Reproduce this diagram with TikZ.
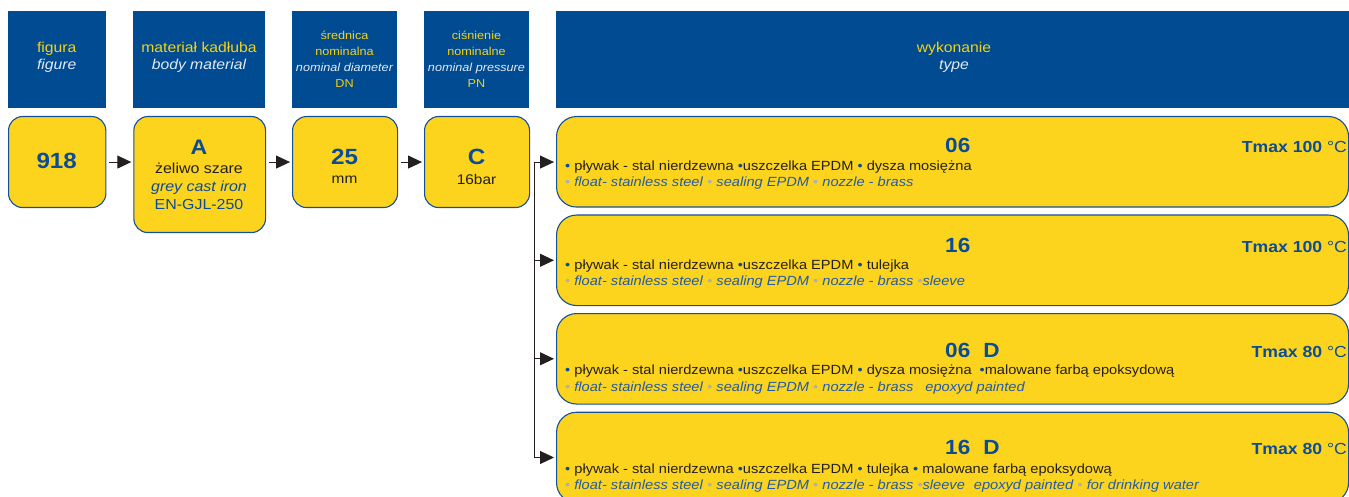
\documentclass[tikz,border=0pt]{standalone}
\usepackage{fontspec}
\setmainfont{Liberation Sans}[FakeStretch=1.1]
\usetikzlibrary{arrows.meta,calc}
\definecolor{hdrblue}{RGB}{0,75,145}
\definecolor{hdryellow}{RGB}{245,210,20}
\definecolor{hdrwhite}{RGB}{228,234,242}
\definecolor{boxyellow}{RGB}{253,212,29}
\definecolor{borderblue}{RGB}{20,80,150}
\definecolor{textblue}{RGB}{10,76,150}
\definecolor{itblue}{RGB}{35,90,165}
\definecolor{bulletgrey}{RGB}{175,175,175}
\definecolor{textblack}{RGB}{35,31,32}
\definecolor{arrowblack}{RGB}{35,31,32}
\newcommand\myfs[1]{\fontsize{#1}{#1}\selectfont}
\newcommand\bb{{\color{textblue}•}}
\newcommand\gb{{\color{bulletgrey}•}}
\begin{document}
\begin{tikzpicture}[x=1pt,y=-1pt,
  hdr/.style={fill=hdrblue,inner sep=0,anchor=north west,minimum height=97pt},
  ybox/.style={fill=boxyellow,draw=borderblue,line width=1.1pt,rounded corners=14pt,inner sep=0,anchor=north west},
  rbox/.style={ybox,rounded corners=20pt,minimum width=792pt,minimum height=90.5pt},
  txt/.style={inner sep=0,anchor=base},
  hy/.style={txt,text=hdryellow,font=\myfs{14.3}},
  hw/.style={txt,text=hdrwhite,font=\myfs{14.3}\itshape},
  sy/.style={txt,text=hdryellow,font=\myfs{11.5}},
  sw/.style={txt,text=hdrwhite,font=\myfs{11.5}\itshape},
  big/.style={txt,text=textblue,font=\myfs{22}\bfseries},
  mid/.style={txt,text=textblack,font=\myfs{14.5}},
  ttl/.style={inner sep=0,anchor=base west,text=textblue,font=\myfs{20.5}\bfseries},
  tmax/.style={inner sep=0,anchor=base east,text=textblue,font=\myfs{16}},
  lineA/.style={inner sep=0,anchor=base west,text=textblack,font=\myfs{13.3}},
  lineB/.style={inner sep=0,anchor=base west,text=itblue,font=\myfs{13.3}},
  conn/.style={draw=arrowblack,line width=1pt},
  arr/.style={conn,-{Triangle[length=14pt,width=13pt]},shorten >=2pt}
]
\useasboundingbox (0,0) rectangle (1349,497);
% header
\node[hdr,minimum width=98pt] (h1) at (8,10.5) {};
\node[hdr,minimum width=132pt] (h2) at (133,10.5) {};
\node[hdr,minimum width=105pt] (h3) at (292,10.5) {};
\node[hdr,minimum width=105pt] (h4) at (424,10.5) {};
\node[hdr,minimum width=793pt] (h5) at (556,10.5) {};
\node[hy] (h1a) at (56.8,53) {figura};
\node[hw] (h1b) at (56.8,69.5) {figure};
\node[hy] (h2a) at (199,53) {materiał kadłuba};
\node[hw] (h2b) at (199,69.5) {body material};
\node[sy] (h3a) at (344.5,40) {średnica};
\node[sy] (h3b) at (344.5,56) {nominalna};
\node[sw] (h3c) at (344.5,72) {nominal diameter};
\node[sy] (h3d) at (344.5,88) {DN};
\node[sy] (h4a) at (476.5,40) {ciśnienie};
\node[sy] (h4b) at (476.5,56) {nominalne};
\node[sw] (h4c) at (476.5,72) {nominal pressure};
\node[sy] (h4d) at (476.5,88) {PN};
\node[hy] (h5a) at (954,53) {wykonanie};
\node[hw] (h5b) at (954,69.5) {type};
% left row
\node[ybox,minimum width=97.3pt,minimum height=91pt] (b1) at (8,116) {};
\node[ybox,minimum width=131.7pt,minimum height=116pt] (b2) at (133.3,116) {};
\node[ybox,minimum width=105pt,minimum height=91pt] (b3) at (292,116) {};
\node[ybox,minimum width=105pt,minimum height=91pt] (b4) at (424,116) {};
\node[big] (b1a) at (56.7,169) {918};
\node[big,font=\myfs{21}\bfseries] (b2a) at (199,154.5) {A};
\node[mid] (b2b) at (199,173.5) {żeliwo szare};
\node[mid,text=textblue,font=\myfs{14.5}\itshape] (b2c) at (199,191.5) {grey cast iron};
\node[mid,text=textblue] (b2d) at (199,209.2) {EN-GJL-250};
\node[big] (b3a) at (344.5,165) {25};
\node[mid,font=\myfs{14}] (b3b) at (344.5,184) {mm};
\node[big] (b4a) at (476.5,165) {C};
\node[mid,font=\myfs{14}] (b4b) at (476.5,184.5) {16bar};
% right boxes
\node[rbox] (r1) at (556,116) {};
\node[rbox] (r2) at (556,214.5) {};
\node[rbox] (r3) at (556,313) {};
\node[rbox] (r4) at (556,411.7) {};
\node[ttl] (r1t) at (945,153) {06};
\node[tmax] (r1m) at (1347,153) {\textbf{Tmax 100} °C};
\node[lineA] (r1a) at (565,170.5) {\bb{} pływak - stal nierdzewna \bb uszczelka EPDM \bb{} dysza mosiężna};
\node[lineB] (r1b) at (565,187) {\gb{} \textit{float- stainless steel} \gb{} \textit{sealing EPDM} \gb{} \textit{nozzle - brass}};
\node[ttl] (r2t) at (945,252) {16};
\node[tmax] (r2m) at (1347,252) {\textbf{Tmax 100} °C};
\node[lineA] (r2a) at (565,269.5) {\bb{} pływak - stal nierdzewna \bb uszczelka EPDM \bb{} tulejka};
\node[lineB] (r2b) at (565,285.5) {\gb{} \textit{float- stainless steel} \gb{} \textit{sealing EPDM} \gb{} \textit{nozzle - brass} \gb\textit{sleeve}};
\node[ttl] (r3t) at (945,357.3) {06\hspace{13pt}D};
\node[tmax] (r3m) at (1347,357.3) {\textbf{Tmax 80} °C};
\node[lineA] (r3a) at (565,374.8) {\bb{} pływak - stal nierdzewna \bb uszczelka EPDM \bb{} dysza mosiężna\hspace{8pt}\bb malowane farbą epoksydową};
\node[lineB] (r3b) at (565,391.5) {\gb{} \textit{float- stainless steel} \gb{} \textit{sealing EPDM} \gb{} \textit{nozzle - brass}\hspace{12pt}\textit{epoxyd painted}};
\node[ttl] (r4t) at (945,454) {16\hspace{13pt}D};
\node[tmax] (r4m) at (1347,454) {\textbf{Tmax 80} °C};
\node[lineA] (r4a) at (565,473.1) {\bb{} pływak - stal nierdzewna \bb uszczelka EPDM \bb{} tulejka \bb{} malowane farbą epoksydową};
\node[lineB] (r4b) at (565,489.5) {\gb{} \textit{float- stainless steel} \gb{} \textit{sealing EPDM} \gb{} \textit{nozzle - brass} \gb\textit{sleeve}\hspace{9pt}\textit{epoxyd painted} \gb{} \textit{for drinking water}};
% connectors
\draw[arr,shorten <=3pt] (b1.east) -- (b2.west |- b1.east);
\draw[arr,shorten <=3pt] (b2.east |- b1.east) -- (b3.west);
\draw[arr,shorten <=3pt] (b3.east) -- (b4.west);
\coordinate (j) at ($(b4.east)+(4pt,0)$);
\draw[conn] (j) -- (j |- r4.west);
\draw[arr] (j) -- (r1.west |- j);
\draw[arr] (j |- r2.west) -- (r2.west);
\draw[arr] (j |- r3.west) -- (r3.west);
\draw[arr] (j |- r4.west) -- (r4.west);
\end{tikzpicture}
\end{document}
